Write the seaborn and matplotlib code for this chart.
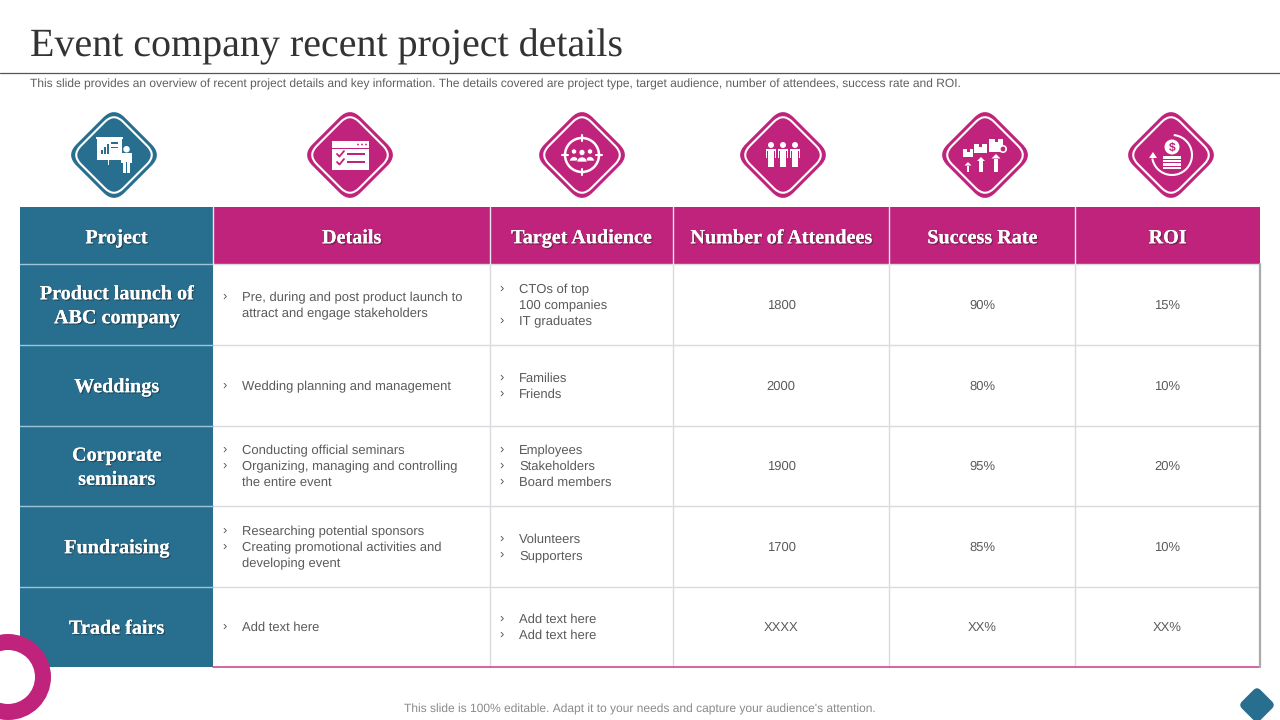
import numpy as np
import seaborn as sns
import matplotlib.pyplot as plt
import matplotlib.patheffects as pe
from matplotlib.colors import ListedColormap
from matplotlib.patches import Arc, Circle, FancyBboxPatch, Polygon, Rectangle, Wedge
from matplotlib.transforms import Affine2D

title = "Event company recent project details"
subtitle = ("This slide provides an overview of recent project details and key information. "
            "The details covered are project type, target audience, number of attendees, success rate and ROI.")
footer = "This slide is 100% editable. Adapt it to your needs and capture your audience's attention."

columns = ["Project", "Details", "Target Audience", "Number of Attendees", "Success Rate", "ROI"]
projects = ["Product launch of\nABC company", "Weddings", "Corporate\nseminars", "Fundraising", "Trade fairs"]
details = [
    ["Pre, during and post product launch to\nattract and engage stakeholders"],
    ["Wedding planning and management"],
    ["Conducting official seminars", "Organizing, managing and controlling\nthe entire event"],
    ["Researching potential sponsors", "Creating promotional activities and\ndeveloping event"],
    ["Add text here"],
]
audience = [
    ["CTOs of top\n100 companies", "IT graduates"],
    ["Families", "Friends"],
    ["Employees", "Stakeholders", "Board members"],
    ["Volunteers", "Supporters"],
    ["Add text here", "Add text here"],
]
attendees = ["1800", "2000", "1900", "1700", "XXXX"]
success_rate = ["90%", "80%", "95%", "85%", "XX%"]
roi = ["15%", "10%", "20%", "10%", "XX%"]

TEAL = "#286F8F"
MAGENTA = "#C0237B"
BODY = "#5A5A5A"
SERIF = "Liberation Serif"
SANS = "Liberation Sans"

# table grid in pixels
col_w = [193, 277, 183, 216, 186, 185]
row_h = [57, 81, 81, 80, 81, 80]
left, top = 20, 207
col_x = np.cumsum([left] + col_w)
row_y = np.cumsum([top] + row_h)

sns.set_theme(style="white")
plt.rcParams["text.hinting"] = "none"
plt.rcParams["text.hinting_factor"] = 1
fig = plt.figure(figsize=(12.8, 7.2), dpi=100, facecolor="white")

# cell fills: 0 white, 1 teal, 2 magenta
codes = np.zeros((6, 6), dtype=int)
codes[0, :] = 2
codes[:, 0] = 1
cells = np.repeat(np.repeat(codes, row_h, axis=0), col_w, axis=1)
ax_t = fig.add_axes([left / 1280, (720 - row_y[-1]) / 720, sum(col_w) / 1280, sum(row_h) / 720])
sns.heatmap(cells, ax=ax_t, cmap=ListedColormap(["white", TEAL, MAGENTA]), vmin=0, vmax=2,
            cbar=False, xticklabels=False, yticklabels=False, rasterized=True)

ax = fig.add_axes([0, 0, 1, 1])
ax.set_xlim(0, 1280)
ax.set_ylim(720, 0)
ax.axis("off")
ax.patch.set_alpha(0)

# header
ax.text(30, 47, title, family=SERIF, fontsize=28.5, color="#333333", va="center", ha="left")
ax.plot([0, 1280], [72.5, 72.5], color="#555555", lw=0.9)
ax.text(30, 84.5, subtitle, family=SANS, fontsize=8.7, color="#5F5F5F", va="center", ha="left")
ax.text(640, 709.5, footer, family=SANS, fontsize=8.75, color="#8A8A8A", va="center", ha="center")

# grid lines
for y in row_y[2:-1]:
    ax.plot([col_x[1], col_x[-1]], [y, y], color="#DADADF", lw=1)
for x in col_x[2:-1]:
    ax.plot([x, x], [row_y[1], row_y[-1]], color="#DADADF", lw=1)
for y in row_y[1:-1]:
    ax.plot([col_x[0], col_x[1]], [y, y], color="#9CC6D8", lw=1)
ax.plot([col_x[1], col_x[-1]], [row_y[1], row_y[1]], color="#DADADF", lw=1)
for x in col_x[1:-1]:
    ax.plot([x, x], [row_y[0], row_y[1]], color="#E8E8F0", lw=1)
ax.plot([col_x[1], col_x[-1]], [row_y[-1], row_y[-1]], color="#D04A96", lw=1.2)
ax.plot([col_x[-1], col_x[-1]], [row_y[1], row_y[-1]], color="#ABABAB", lw=1.6)

shadow = [pe.withSimplePatchShadow(offset=(1, -1), shadow_rgbFace="#222222", alpha=0.45), pe.Normal()]


def centre(i, n):
    return (n[i] + n[i + 1]) / 2


def bullets(x, yc, items):
    n = sum(item.count("\n") + 1 for item in items)
    y = yc - (n - 1) * 8
    for item in items:
        ax.text(x, y + 1, "\u203a", family=SANS, fontsize=9, color=BODY, va="center", ha="left")
        for line in item.split("\n"):
            ax.text(x + 20, y + 1, line, family=SANS, fontsize=9.4, color=BODY, va="center", ha="left")
            y += 16


for i, name in enumerate(columns):
    ax.text(centre(i, col_x), centre(0, row_y) + 3, name, family=SERIF, weight="bold", fontsize=14.5,
            color="white", va="center", ha="center", path_effects=shadow)

for r in range(5):
    yc = centre(r + 1, row_y)
    ax.text(centre(0, col_x), yc + 2, projects[r], family=SERIF, weight="bold", fontsize=14.5, color="white",
            va="center", ha="center", linespacing=1.42, path_effects=shadow)
    bullets(col_x[1] + 9, yc, details[r])
    bullets(col_x[2] + 9, yc, audience[r])
    for c, vals in zip([3, 4, 5], [attendees, success_rate, roi]):
        ax.text(centre(c, col_x), yc + 1, vals[r], family=SANS, fontsize=9.1, color=BODY, va="center", ha="center")


def diamond(cx, cy, half, r, **kw):
    # square turned 45 degrees, half is the reach along the axis
    a = (half - r) / np.sqrt(2)
    p = FancyBboxPatch((cx - a, cy - a), 2 * a, 2 * a, boxstyle=f"round,pad={r},rounding_size={r}",
                       transform=Affine2D().rotate_deg_around(cx, cy, 45) + ax.transData, **kw)
    ax.add_patch(p)


def badge(cx, cy, color):
    diamond(cx, cy, 42, 15, fc=color, ec="none")
    diamond(cx, cy, 37, 13, fc="none", ec="white", lw=1.5)


def rect(x0, y0, x1, y1, color="white"):
    ax.add_patch(Rectangle((x0, y0), x1 - x0, y1 - y0, fc=color, ec="none"))


def person(x, y0, y1, w, color="white"):
    # head, torso, arms and legs between y0 and y1
    h = y1 - y0
    ax.add_patch(Circle((x, y0 + h * 0.12), h * 0.12, fc=color, ec="none"))
    rect(x - w * 0.3, y0 + h * 0.27, x + w * 0.3, y0 + h * 0.6, color)
    rect(x - w / 2, y0 + h * 0.27, x - w * 0.35, y0 + h * 0.62, color)
    rect(x + w * 0.35, y0 + h * 0.27, x + w / 2, y0 + h * 0.62, color)
    rect(x - w / 2, y0 + h * 0.27, x + w / 2, y0 + h * 0.34, color)
    rect(x - w * 0.3, y0 + h * 0.55, x - w * 0.03, y1, color)
    rect(x + w * 0.03, y0 + h * 0.55, x + w * 0.3, y1, color)


def arrow_up(x, y0, y1, w):
    ax.add_patch(Polygon([(x, y0), (x + w, y0 + w), (x - w, y0 + w)], fc="white", ec="none"))
    rect(x - w * 0.4, y0 + w, x + w * 0.4, y1)


# presentation icon
cx, cy = 114, 155
badge(cx, cy, TEAL)
rect(cx - 17, cy - 17, cx + 8, cy + 5)
rect(cx - 18, cy - 18, cx + 9, cy - 16)
rect(cx - 6.5, cy + 5, cx - 5.5, cy + 10)
for dx, h in zip([-13, -10, -7], [4, 7, 10]):
    rect(cx + dx, cy - 1 - h, cx + dx + 2, cy - 1, TEAL)
rect(cx - 3, cy - 13, cx + 4, cy - 11, TEAL)
rect(cx - 3, cy - 8, cx + 4, cy - 7, TEAL)
person(cx + 12.5, cy - 9, cy + 18, 11)
ax.plot([cx + 8, cx + 2], [cy + 1, cy - 5], color="white", lw=1.6)

# checklist icon
cx = 350
badge(cx, cy, MAGENTA)
rect(cx - 18, cy - 14, cx + 19, cy + 15)
rect(cx - 18, cy - 7, cx + 19, cy - 6.2, MAGENTA)
for dx in [8, 12, 16]:
    ax.add_patch(Circle((cx + dx, cy - 10.5), 0.9, fc=MAGENTA, ec="none"))
for y in [-1, 7]:
    ax.plot([cx - 13, cx - 10.5, cx - 6], [cy + y, cy + y + 2.5, cy + y - 3], color=MAGENTA, lw=1.3)
    rect(cx - 3, cy + y - 0.7, cx + 15, cy + y + 0.7, MAGENTA)

# target audience icon
cx = 582
badge(cx, cy, MAGENTA)
ax.add_patch(Circle((cx, cy), 17, fc="none", ec="white", lw=1.8))
for dx, dy in [(0, -1), (0, 1), (-1, 0), (1, 0)]:
    ax.plot([cx + dx * 14, cx + dx * 20], [cy + dy * 14, cy + dy * 20], color="white", lw=1.5)
for dx, dy, s in [(-8, -1, 2.6), (8, -1, 2.6), (0, 0, 3)]:
    ax.add_patch(Circle((cx + dx, cy + dy - 2.5), s, fc="white", ec=MAGENTA, lw=0.5))
    ax.add_patch(Wedge((cx + dx, cy + dy + 7), s * 1.7, 180, 360, fc="white", ec=MAGENTA, lw=0.5))

# attendees icon
cx = 783
badge(cx, cy, MAGENTA)
for dx in [-12, 0, 12]:
    person(cx + dx, cy - 13, cy + 12, 10.5)

# success rate icon
cx = 985
badge(cx, cy, MAGENTA)
for x0, x1, y0, y1 in [(-22, -12, -6, 2), (-11, 2, -11, -2), (4, 18, -16, -3)]:
    rect(cx + x0, cy + y0, cx + x1, cy + y1)
    rect(cx + (x0 + x1) / 2 - 1.5, cy + y0, cx + (x0 + x1) / 2 + 1.5, cy + y0 + 3, MAGENTA)
for dx, y0, w in [(-17, 7, 3.5), (-4, 2, 4), (11, -1, 4.5)]:
    arrow_up(cx + dx, cy + y0, cy + 17, w)
ax.add_patch(Circle((cx + 18, cy - 6), 3.2, fc=MAGENTA, ec="white", lw=1.2))

# roi icon
cx = 1171
badge(cx, cy, MAGENTA)
ax.add_patch(Arc((cx + 1, cy), 40, 40, theta1=-85, theta2=170, color="white", lw=1.5))
ax.add_patch(Polygon([(cx - 18, cy - 3), (cx - 14, cy + 3), (cx - 22, cy + 3)], fc="white", ec="none"))
for y in [1, 4.5, 8, 11.5]:
    rect(cx - 8, cy + y, cx + 10, cy + y + 2.8)
ax.add_patch(Circle((cx + 1, cy - 8), 7.5, fc="white", ec="none"))
ax.text(cx + 1, cy - 7.5, "$", family=SANS, weight="bold", fontsize=8.5, color=MAGENTA, va="center", ha="center")

# corner decoration
ax.add_patch(Circle((8, 677), 35, fc="white", ec=MAGENTA, lw=11.5))
diamond(1257, 705, 16.5, 5, fc=TEAL, ec="none", clip_on=True)

fig.savefig("out.png", dpi=100)
